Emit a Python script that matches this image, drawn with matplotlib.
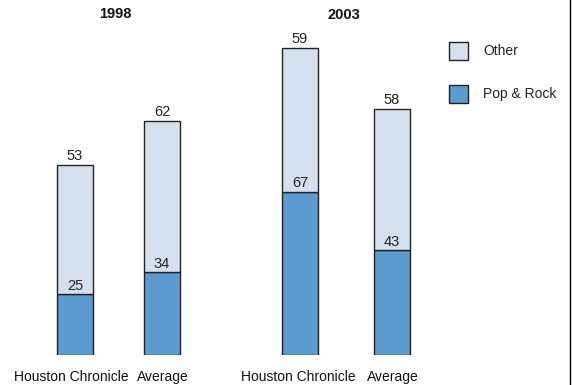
import numpy as np
import matplotlib
matplotlib.use('Agg')
import matplotlib.pyplot as plt
from matplotlib.patches import Rectangle
from matplotlib.lines import Line2D

plt.rcParams['font.family'] = ['Liberation Sans', 'DejaVu Sans']

years = ['1998', '2003']
bar_labels = ['Houston Chronicle', 'Average', 'Houston Chronicle', 'Average']
pop_rock = [25, 34, 67, 43]
other = [53, 62, 59, 58]

c_other = '#d5e0ef'
c_pop = '#5b9bd0'
edge = '#222222'

fig = plt.figure(figsize=(5.72, 3.85), dpi=100)
ax = fig.add_axes([0, 30 / 385, 1, 355 / 385])
ax.set_xlim(0, 572)
ax.set_ylim(0, 355 / 2.44)
ax.axis('off')

xpos = np.array([75, 162, 300, 392])
w = 36

ax.bar(xpos, pop_rock, width=w, color=c_pop, edgecolor=edge, linewidth=1)
ax.bar(xpos, other, width=w, bottom=pop_rock, color=c_other, edgecolor=edge, linewidth=1)

for x, p, o in zip(xpos, pop_rock, other):
    ax.annotate(str(p), (x, p), xytext=(0, 1), textcoords='offset points',
                ha='center', va='bottom', fontsize=10.5, color='#222222')
    ax.annotate(str(o), (x, p + o), xytext=(0, 1), textcoords='offset points',
                ha='center', va='bottom', fontsize=10.5, color='#222222')

label_x = [71, 163, 298, 393]
for x, lab in zip(label_x, bar_labels):
    fig.text(x / 572, 1 - 377 / 385, lab, ha='center', va='center', fontsize=10, color='#111111')

for x, yr, y in zip([115, 344], years, [14, 15]):
    fig.text(x / 572, 1 - y / 385, yr, ha='center', va='center', fontsize=10.5,
             fontweight='bold', color='#111111')

# legend drawn by hand
for y, lab, col in [(42, 'Other', c_other), (85, 'Pop & Rock', c_pop)]:
    fig.add_artist(Rectangle((449 / 572, 1 - (y + 18) / 385), 19 / 572, 18 / 385,
                             facecolor=col, edgecolor=edge, linewidth=1,
                             transform=fig.transFigure))
    fig.text(483 / 572, 1 - (y + 9) / 385, lab, ha='left', va='center',
             fontsize=10, color='#222222')

fig.add_artist(Line2D([569.5 / 572, 569.5 / 572], [0, 1], color='black', linewidth=1,
                      transform=fig.transFigure))

fig.savefig('out.png', dpi=100)
